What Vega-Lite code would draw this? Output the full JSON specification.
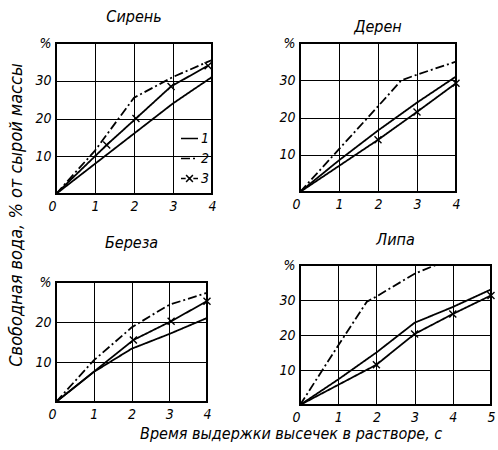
{
  "$schema": "https://vega.github.io/schema/vega-lite/v6.json",
  "background": "white",
  "padding": {"left": 7, "top": 8, "right": 5, "bottom": 5},
  "title": {"text": "Время выдержки высечек в растворе, с", "orient": "bottom", "anchor": "middle", "dx": 38, "offset": 1, "fontSize": 16, "fontStyle": "italic", "fontWeight": "normal", "font": "DejaVu Sans Condensed", "color": "black"},
  "config": {
    "view": {"stroke": "black", "strokeWidth": 2},
    "axis": {"domain": false, "ticks": false, "grid": true, "gridColor": "black", "gridWidth": 1, "gridOpacity": 1, "labelFont": "DejaVu Sans Condensed", "labelFontStyle": "italic", "labelFontSize": 14, "labelColor": "black", "labelPadding": 5, "title": null, "labelFlush": false, "labelOverlap": false},
    "title": {"font": "DejaVu Sans Condensed", "fontStyle": "italic", "fontWeight": "normal", "fontSize": 16, "color": "black"},
    "legend": {"labelFont": "DejaVu Sans Condensed", "labelFontStyle": "italic", "labelFontSize": 14, "labelColor": "black"}
  },
  "datasets": {
    "d": [
      {"panel": "Сирень", "series": "1", "x": 0, "y": 0},
      {"panel": "Сирень", "series": "1", "x": 1, "y": 8},
      {"panel": "Сирень", "series": "1", "x": 2, "y": 16},
      {"panel": "Сирень", "series": "1", "x": 3, "y": 24},
      {"panel": "Сирень", "series": "1", "x": 4, "y": 31},
      {"panel": "Сирень", "series": "2", "x": 0, "y": 0},
      {"panel": "Сирень", "series": "2", "x": 1, "y": 11.5},
      {"panel": "Сирень", "series": "2", "x": 2, "y": 25.5},
      {"panel": "Сирень", "series": "2", "x": 3, "y": 31},
      {"panel": "Сирень", "series": "2", "x": 4, "y": 35.5},
      {"panel": "Сирень", "series": "3", "x": 0, "y": 0},
      {"panel": "Сирень", "series": "3", "x": 1.3, "y": 13},
      {"panel": "Сирень", "series": "3", "x": 2.05, "y": 20},
      {"panel": "Сирень", "series": "3", "x": 2.95, "y": 28.5},
      {"panel": "Сирень", "series": "3", "x": 3.9, "y": 34},
      {"panel": "Дерен", "series": "1", "x": 0, "y": 0},
      {"panel": "Дерен", "series": "1", "x": 1, "y": 8.5},
      {"panel": "Дерен", "series": "1", "x": 2, "y": 16.5},
      {"panel": "Дерен", "series": "1", "x": 3, "y": 24},
      {"panel": "Дерен", "series": "1", "x": 4, "y": 31},
      {"panel": "Дерен", "series": "2", "x": 0, "y": 0},
      {"panel": "Дерен", "series": "2", "x": 1, "y": 11.5},
      {"panel": "Дерен", "series": "2", "x": 2, "y": 23},
      {"panel": "Дерен", "series": "2", "x": 2.6, "y": 30},
      {"panel": "Дерен", "series": "2", "x": 3, "y": 31.5},
      {"panel": "Дерен", "series": "2", "x": 4, "y": 35},
      {"panel": "Дерен", "series": "3", "x": 0, "y": 0},
      {"panel": "Дерен", "series": "3", "x": 2, "y": 14},
      {"panel": "Дерен", "series": "3", "x": 3, "y": 21.5},
      {"panel": "Дерен", "series": "3", "x": 4, "y": 29.2},
      {"panel": "Береза", "series": "1", "x": 0, "y": 0},
      {"panel": "Береза", "series": "1", "x": 1, "y": 7.5},
      {"panel": "Береза", "series": "1", "x": 2, "y": 13.3},
      {"panel": "Береза", "series": "1", "x": 3, "y": 17},
      {"panel": "Береза", "series": "1", "x": 4, "y": 21},
      {"panel": "Береза", "series": "2", "x": 0, "y": 0},
      {"panel": "Береза", "series": "2", "x": 1, "y": 10.4},
      {"panel": "Береза", "series": "2", "x": 2, "y": 18.6},
      {"panel": "Береза", "series": "2", "x": 2.5, "y": 21.5},
      {"panel": "Береза", "series": "2", "x": 3, "y": 24.3},
      {"panel": "Береза", "series": "2", "x": 4, "y": 27.3},
      {"panel": "Береза", "series": "3", "x": 0, "y": 0},
      {"panel": "Береза", "series": "3", "x": 2.05, "y": 15.5},
      {"panel": "Береза", "series": "3", "x": 3.05, "y": 20.2},
      {"panel": "Береза", "series": "3", "x": 4, "y": 25.2},
      {"panel": "Липа", "series": "1", "x": 0, "y": 0},
      {"panel": "Липа", "series": "1", "x": 1, "y": 7.3},
      {"panel": "Липа", "series": "1", "x": 2, "y": 15},
      {"panel": "Липа", "series": "1", "x": 3, "y": 23.5},
      {"panel": "Липа", "series": "1", "x": 4, "y": 28},
      {"panel": "Липа", "series": "1", "x": 5, "y": 33},
      {"panel": "Липа", "series": "2", "x": 0, "y": 0},
      {"panel": "Липа", "series": "2", "x": 1, "y": 17},
      {"panel": "Липа", "series": "2", "x": 1.75, "y": 29.5},
      {"panel": "Липа", "series": "2", "x": 2, "y": 31},
      {"panel": "Липа", "series": "2", "x": 3, "y": 37.5},
      {"panel": "Липа", "series": "2", "x": 3.55, "y": 40},
      {"panel": "Липа", "series": "3", "x": 0, "y": 0},
      {"panel": "Липа", "series": "3", "x": 2, "y": 11.5},
      {"panel": "Липа", "series": "3", "x": 3, "y": 20.3},
      {"panel": "Липа", "series": "3", "x": 4, "y": 26},
      {"panel": "Липа", "series": "3", "x": 5, "y": 31.3}
    ]
  },
  "resolve": {"scale": {"strokeDash": "independent"}, "legend": {"strokeDash": "independent"}},
  "spacing": 59,
  "hconcat": [
    {
      "title": {"text": "Свободная вода, % от сырой массы", "orient": "left", "anchor": "middle", "fontSize": 18, "offset": 8},
      "spacing": 20,
      "resolve": {"scale": {"strokeDash": "independent"}, "legend": {"strokeDash": "independent"}},
      "vconcat": [
        {
          "title": {"text": "Сирень", "offset": 11},
          "width": 156, "height": 151,
          "data": {"name": "d"},
          "transform": [{"filter": "datum.panel == 'Сирень'"}],
          "encoding": {
            "x": {"field": "x", "type": "quantitative", "scale": {"domain": [0, 4], "nice": false}, "axis": {"values": [0, 1, 2, 3, 4], "labelAlign": {"condition": {"test": "datum.value == 0", "value": "right"}, "value": "center"}}},
            "y": {"field": "y", "type": "quantitative", "scale": {"domain": [0, 40], "nice": false}, "axis": {"values": [10, 20, 30, 40], "labelExpr": "datum.value == 40 ? '%' : datum.label"}}
          },
          "layer": [
            {
              "mark": {"type": "line", "color": "black", "strokeWidth": 1.8, "clip": true},
              "encoding": {
                "strokeDash": {"field": "series", "type": "nominal", "scale": {"domain": ["1", "2", "3"], "range": [[1, 0], [9, 3, 2, 3], [1, 0]]},
                  "legend": {"orient": "none", "legendX": 124, "legendY": 86, "title": null, "symbolType": "stroke", "symbolSize": 289, "symbolStrokeWidth": 1.6, "symbolStrokeColor": "black", "rowPadding": 3, "labelOffset": 2,
                    "encode": {"symbols": {"update": {"shape": {"signal": "datum.value == '3' ? 'M-1,0L-0.45,0M0.45,0L1,0M-0.4,-0.4L0.4,0.4M-0.4,0.4L0.4,-0.4' : 'stroke'"}}}}}}
              }
            },
            {
              "transform": [{"filter": "datum.series == '3' && datum.x > 0"}],
              "mark": {"type": "point", "shape": "M-1,-1L1,1M-1,1L1,-1", "size": 49, "filled": false, "color": "black", "strokeWidth": 1.4, "opacity": 1}
            }
          ]
        },
        {
          "title": {"text": "Береза", "offset": 24},
          "width": 151, "height": 120,
          "data": {"name": "d"},
          "transform": [{"filter": "datum.panel == 'Береза'"}],
          "encoding": {
            "x": {"field": "x", "type": "quantitative", "scale": {"domain": [0, 4], "nice": false}, "axis": {"values": [0, 1, 2, 3, 4], "labelAlign": {"condition": {"test": "datum.value == 0", "value": "right"}, "value": "center"}}},
            "y": {"field": "y", "type": "quantitative", "scale": {"domain": [0, 30], "nice": false}, "axis": {"values": [10, 20, 30], "labelExpr": "datum.value == 30 ? '%' : datum.label"}}
          },
          "layer": [
            {
              "mark": {"type": "line", "color": "black", "strokeWidth": 1.8, "clip": true},
              "encoding": {
                "strokeDash": {"field": "series", "type": "nominal", "scale": {"domain": ["1", "2", "3"], "range": [[1, 0], [9, 3, 2, 3], [1, 0]]}, "legend": null}
              }
            },
            {
              "transform": [{"filter": "datum.series == '3' && datum.x > 0"}],
              "mark": {"type": "point", "shape": "M-1,-1L1,1M-1,1L1,-1", "size": 49, "filled": false, "color": "black", "strokeWidth": 1.4, "opacity": 1}
            }
          ]
        }
      ]
    },
    {
      "spacing": 19,
      "resolve": {"scale": {"strokeDash": "independent"}, "legend": {"strokeDash": "independent"}},
      "vconcat": [
        {
          "title": {"text": "Дерен", "offset": 1},
          "width": 156, "height": 149,
          "data": {"name": "d"},
          "transform": [{"filter": "datum.panel == 'Дерен'"}],
          "encoding": {
            "x": {"field": "x", "type": "quantitative", "scale": {"domain": [0, 4], "nice": false}, "axis": {"values": [0, 1, 2, 3, 4], "labelAlign": {"condition": {"test": "datum.value == 0", "value": "right"}, "value": "center"}}},
            "y": {"field": "y", "type": "quantitative", "scale": {"domain": [0, 40], "nice": false}, "axis": {"values": [10, 20, 30, 40], "labelExpr": "datum.value == 40 ? '%' : datum.label"}}
          },
          "layer": [
            {
              "mark": {"type": "line", "color": "black", "strokeWidth": 1.8, "clip": true},
              "encoding": {
                "strokeDash": {"field": "series", "type": "nominal", "scale": {"domain": ["1", "2", "3"], "range": [[1, 0], [9, 3, 2, 3], [1, 0]]}, "legend": null}
              }
            },
            {
              "transform": [{"filter": "datum.series == '3' && datum.x > 0"}],
              "mark": {"type": "point", "shape": "M-1,-1L1,1M-1,1L1,-1", "size": 49, "filled": false, "color": "black", "strokeWidth": 1.4, "opacity": 1}
            }
          ]
        },
        {
          "title": {"text": "Липа", "offset": 10},
          "width": 191, "height": 140,
          "data": {"name": "d"},
          "transform": [{"filter": "datum.panel == 'Липа'"}],
          "encoding": {
            "x": {"field": "x", "type": "quantitative", "scale": {"domain": [0, 5], "nice": false}, "axis": {"values": [0, 1, 2, 3, 4, 5], "labelAlign": {"condition": {"test": "datum.value == 0", "value": "right"}, "value": "center"}}},
            "y": {"field": "y", "type": "quantitative", "scale": {"domain": [0, 40], "nice": false}, "axis": {"values": [10, 20, 30, 40], "labelExpr": "datum.value == 40 ? '%' : datum.label"}}
          },
          "layer": [
            {
              "mark": {"type": "line", "color": "black", "strokeWidth": 1.8, "clip": true},
              "encoding": {
                "strokeDash": {"field": "series", "type": "nominal", "scale": {"domain": ["1", "2", "3"], "range": [[1, 0], [9, 3, 2, 3], [1, 0]]}, "legend": null}
              }
            },
            {
              "transform": [{"filter": "datum.series == '3' && datum.x > 0"}],
              "mark": {"type": "point", "shape": "M-1,-1L1,1M-1,1L1,-1", "size": 49, "filled": false, "color": "black", "strokeWidth": 1.4, "opacity": 1}
            }
          ]
        }
      ]
    }
  ]
}
